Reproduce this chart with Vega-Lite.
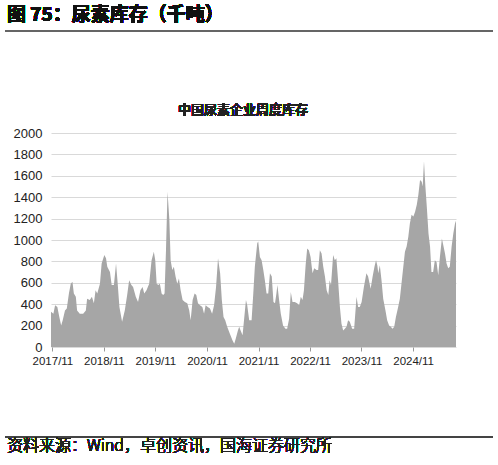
{
  "$schema": "https://vega.github.io/schema/vega-lite/v6.json",
  "autosize": "none",
  "width": 405,
  "height": 214,
  "padding": {"left": 51, "top": 133, "right": 42, "bottom": 118},
  "background": "white",
  "data": {
    "values": [
      {"d": "2017-10-22", "v": 330}, {"d": "2017-11-08", "v": 310}, {"d": "2017-11-20", "v": 390},
      {"d": "2017-12-06", "v": 375}, {"d": "2017-12-20", "v": 280}, {"d": "2018-01-02", "v": 200},
      {"d": "2018-01-13", "v": 250}, {"d": "2018-01-29", "v": 340}, {"d": "2018-02-11", "v": 360},
      {"d": "2018-02-26", "v": 500}, {"d": "2018-03-11", "v": 590}, {"d": "2018-03-23", "v": 610},
      {"d": "2018-04-02", "v": 500}, {"d": "2018-04-16", "v": 470}, {"d": "2018-04-25", "v": 340},
      {"d": "2018-05-14", "v": 310}, {"d": "2018-06-07", "v": 310}, {"d": "2018-06-26", "v": 340},
      {"d": "2018-07-05", "v": 450}, {"d": "2018-07-24", "v": 440}, {"d": "2018-08-08", "v": 470},
      {"d": "2018-08-22", "v": 410}, {"d": "2018-09-03", "v": 530}, {"d": "2018-09-15", "v": 500},
      {"d": "2018-10-04", "v": 590}, {"d": "2018-10-16", "v": 780}, {"d": "2018-11-04", "v": 860},
      {"d": "2018-11-16", "v": 830}, {"d": "2018-11-25", "v": 750}, {"d": "2018-12-14", "v": 700},
      {"d": "2018-12-26", "v": 580}, {"d": "2019-01-11", "v": 580}, {"d": "2019-01-26", "v": 780},
      {"d": "2019-02-05", "v": 625}, {"d": "2019-02-19", "v": 375}, {"d": "2019-03-10", "v": 235},
      {"d": "2019-03-29", "v": 340}, {"d": "2019-04-15", "v": 485}, {"d": "2019-04-29", "v": 625},
      {"d": "2019-05-15", "v": 580}, {"d": "2019-05-27", "v": 560}, {"d": "2019-06-15", "v": 470},
      {"d": "2019-07-01", "v": 420}, {"d": "2019-07-18", "v": 530}, {"d": "2019-08-02", "v": 560},
      {"d": "2019-08-14", "v": 500}, {"d": "2019-08-30", "v": 530}, {"d": "2019-09-18", "v": 590},
      {"d": "2019-10-05", "v": 810}, {"d": "2019-10-21", "v": 890}, {"d": "2019-10-31", "v": 810},
      {"d": "2019-11-10", "v": 590}, {"d": "2019-11-22", "v": 580}, {"d": "2019-12-03", "v": 590},
      {"d": "2019-12-15", "v": 500}, {"d": "2019-12-26", "v": 485}, {"d": "2020-01-05", "v": 500},
      {"d": "2020-01-15", "v": 900}, {"d": "2020-01-26", "v": 1450}, {"d": "2020-02-08", "v": 1190},
      {"d": "2020-02-17", "v": 810}, {"d": "2020-02-29", "v": 720}, {"d": "2020-03-11", "v": 750},
      {"d": "2020-03-23", "v": 660}, {"d": "2020-04-04", "v": 590}, {"d": "2020-04-16", "v": 640},
      {"d": "2020-04-28", "v": 530}, {"d": "2020-05-12", "v": 440}, {"d": "2020-05-28", "v": 420},
      {"d": "2020-06-14", "v": 410}, {"d": "2020-06-28", "v": 340}, {"d": "2020-07-08", "v": 250},
      {"d": "2020-07-22", "v": 440}, {"d": "2020-08-05", "v": 500}, {"d": "2020-08-17", "v": 485},
      {"d": "2020-08-29", "v": 410}, {"d": "2020-09-12", "v": 390}, {"d": "2020-09-29", "v": 375},
      {"d": "2020-10-11", "v": 310}, {"d": "2020-10-22", "v": 390}, {"d": "2020-11-06", "v": 375},
      {"d": "2020-11-22", "v": 360}, {"d": "2020-12-07", "v": 310}, {"d": "2020-12-21", "v": 390},
      {"d": "2021-01-04", "v": 560}, {"d": "2021-01-18", "v": 830}, {"d": "2021-02-02", "v": 690},
      {"d": "2021-02-14", "v": 440}, {"d": "2021-02-26", "v": 280}, {"d": "2021-03-10", "v": 250},
      {"d": "2021-03-24", "v": 190}, {"d": "2021-04-12", "v": 125}, {"d": "2021-05-01", "v": 60},
      {"d": "2021-05-13", "v": 30}, {"d": "2021-05-24", "v": 80}, {"d": "2021-06-08", "v": 155},
      {"d": "2021-06-17", "v": 190}, {"d": "2021-06-27", "v": 155}, {"d": "2021-07-11", "v": 110},
      {"d": "2021-08-04", "v": 440}, {"d": "2021-08-13", "v": 390}, {"d": "2021-08-27", "v": 250},
      {"d": "2021-09-13", "v": 250}, {"d": "2021-09-25", "v": 500}, {"d": "2021-10-06", "v": 750},
      {"d": "2021-10-23", "v": 970}, {"d": "2021-10-30", "v": 985}, {"d": "2021-11-11", "v": 840},
      {"d": "2021-11-23", "v": 810}, {"d": "2021-12-05", "v": 720}, {"d": "2021-12-16", "v": 625},
      {"d": "2021-12-28", "v": 500}, {"d": "2022-01-09", "v": 500}, {"d": "2022-01-21", "v": 690},
      {"d": "2022-02-03", "v": 660}, {"d": "2022-02-15", "v": 420}, {"d": "2022-02-26", "v": 410},
      {"d": "2022-03-08", "v": 500}, {"d": "2022-03-15", "v": 580}, {"d": "2022-03-27", "v": 440},
      {"d": "2022-04-08", "v": 310}, {"d": "2022-04-24", "v": 200}, {"d": "2022-05-11", "v": 170},
      {"d": "2022-05-23", "v": 170}, {"d": "2022-06-06", "v": 265}, {"d": "2022-06-18", "v": 515},
      {"d": "2022-06-30", "v": 420}, {"d": "2022-07-16", "v": 420}, {"d": "2022-08-02", "v": 410},
      {"d": "2022-08-16", "v": 390}, {"d": "2022-08-28", "v": 470}, {"d": "2022-09-09", "v": 440},
      {"d": "2022-09-19", "v": 530}, {"d": "2022-10-01", "v": 765}, {"d": "2022-10-12", "v": 920},
      {"d": "2022-10-24", "v": 905}, {"d": "2022-11-05", "v": 840}, {"d": "2022-11-19", "v": 690},
      {"d": "2022-12-01", "v": 735}, {"d": "2022-12-17", "v": 720}, {"d": "2022-12-29", "v": 720},
      {"d": "2023-01-10", "v": 905}, {"d": "2023-01-22", "v": 875}, {"d": "2023-02-03", "v": 750},
      {"d": "2023-02-15", "v": 660}, {"d": "2023-02-27", "v": 530}, {"d": "2023-03-11", "v": 485},
      {"d": "2023-03-20", "v": 625}, {"d": "2023-03-30", "v": 580}, {"d": "2023-04-14", "v": 860},
      {"d": "2023-04-26", "v": 810}, {"d": "2023-05-07", "v": 830}, {"d": "2023-05-19", "v": 625},
      {"d": "2023-06-01", "v": 375}, {"d": "2023-06-12", "v": 220}, {"d": "2023-06-24", "v": 155},
      {"d": "2023-07-06", "v": 170}, {"d": "2023-07-18", "v": 190}, {"d": "2023-07-29", "v": 250},
      {"d": "2023-08-10", "v": 235}, {"d": "2023-08-27", "v": 170}, {"d": "2023-09-10", "v": 170},
      {"d": "2023-09-27", "v": 470}, {"d": "2023-10-08", "v": 375}, {"d": "2023-10-20", "v": 375},
      {"d": "2023-11-02", "v": 420}, {"d": "2023-11-18", "v": 560}, {"d": "2023-12-06", "v": 690},
      {"d": "2023-12-18", "v": 660}, {"d": "2024-01-05", "v": 545}, {"d": "2024-01-19", "v": 660},
      {"d": "2024-02-01", "v": 750}, {"d": "2024-02-12", "v": 810}, {"d": "2024-02-21", "v": 765},
      {"d": "2024-02-28", "v": 690}, {"d": "2024-03-10", "v": 765}, {"d": "2024-03-22", "v": 625},
      {"d": "2024-04-03", "v": 450}, {"d": "2024-04-19", "v": 340}, {"d": "2024-05-01", "v": 250},
      {"d": "2024-05-15", "v": 200}, {"d": "2024-05-27", "v": 190}, {"d": "2024-06-08", "v": 170},
      {"d": "2024-06-20", "v": 190}, {"d": "2024-07-02", "v": 280}, {"d": "2024-07-18", "v": 375},
      {"d": "2024-07-30", "v": 450}, {"d": "2024-08-16", "v": 660}, {"d": "2024-09-04", "v": 890},
      {"d": "2024-09-16", "v": 940}, {"d": "2024-09-28", "v": 1030}, {"d": "2024-10-09", "v": 1155},
      {"d": "2024-10-21", "v": 1235}, {"d": "2024-11-03", "v": 1220}, {"d": "2024-11-15", "v": 1265},
      {"d": "2024-11-27", "v": 1330}, {"d": "2024-12-08", "v": 1420}, {"d": "2024-12-20", "v": 1560},
      {"d": "2025-01-01", "v": 1545}, {"d": "2025-01-08", "v": 1500}, {"d": "2025-01-17", "v": 1735},
      {"d": "2025-01-27", "v": 1500}, {"d": "2025-02-06", "v": 1310}, {"d": "2025-02-18", "v": 1060},
      {"d": "2025-03-01", "v": 940}, {"d": "2025-03-11", "v": 700}, {"d": "2025-03-23", "v": 700},
      {"d": "2025-04-04", "v": 810}, {"d": "2025-04-16", "v": 795}, {"d": "2025-04-28", "v": 670},
      {"d": "2025-05-10", "v": 840}, {"d": "2025-05-24", "v": 1015}, {"d": "2025-06-03", "v": 950},
      {"d": "2025-06-15", "v": 875}, {"d": "2025-06-26", "v": 780}, {"d": "2025-07-08", "v": 735},
      {"d": "2025-07-19", "v": 750}, {"d": "2025-08-01", "v": 940}, {"d": "2025-08-13", "v": 1060},
      {"d": "2025-08-25", "v": 1155}, {"d": "2025-09-01", "v": 1180}
    ]
  },
  "layer": [
    {
      "mark": {"type": "area", "color": "#a6a6a6", "interpolate": "linear"},
      "encoding": {
        "x": {
          "field": "d",
          "type": "temporal",
          "scale": {"nice": false},
          "axis": {
            "title": null,
            "values": [
              {"year": 2017, "month": 11, "date": 1},
              {"year": 2018, "month": 11, "date": 1},
              {"year": 2019, "month": 11, "date": 1},
              {"year": 2020, "month": 11, "date": 1},
              {"year": 2021, "month": 11, "date": 1},
              {"year": 2022, "month": 11, "date": 1},
              {"year": 2023, "month": 11, "date": 1},
              {"year": 2024, "month": 11, "date": 1}
            ],
            "format": "%Y/%m",
            "grid": false,
            "domain": false,
            "ticks": true,
            "tickColor": "#999",
            "tickSize": 4,
            "labelFont": "Liberation Sans",
            "labelFontSize": 11.5,
            "labelColor": "#222",
            "labelPadding": 4
          }
        },
        "y": {
          "field": "v",
          "type": "quantitative",
          "scale": {"domain": [0, 2000]},
          "axis": {
            "title": null,
            "values": [0, 200, 400, 600, 800, 1000, 1200, 1400, 1600, 1800, 2000],
            "format": "d",
            "grid": true,
            "gridColor": "#d9d9d9",
            "domain": false,
            "ticks": false,
            "labelFont": "Liberation Sans",
            "labelFontSize": 13,
            "labelColor": "#222",
            "labelPadding": 9
          }
        }
      }
    },
    {
      "mark": {"type": "text", "align": "center", "baseline": "middle", "font": "Noto Sans CJK SC", "fontSize": 13, "fontWeight": 500, "color": "#222"},
      "encoding": {
        "x": {"value": 192},
        "y": {"value": -23},
        "text": {"value": "中国尿素企业周度库存"}
      }
    },
    {
      "mark": {"type": "text", "align": "left", "baseline": "middle", "font": "Noto Sans CJK SC", "fontSize": 19, "fontWeight": "bold", "color": "#111"},
      "encoding": {
        "x": {"value": -44},
        "y": {"value": -118},
        "text": {"value": "图 75：尿素库存（千吨）"}
      }
    },
    {
      "mark": {"type": "rule", "color": "#666", "strokeWidth": 1.5},
      "encoding": {
        "x": {"value": -46},
        "x2": {"value": 442},
        "y": {"value": -102}
      }
    },
    {
      "mark": {"type": "rule", "color": "#444", "strokeWidth": 1.2},
      "encoding": {
        "x": {"value": -46},
        "x2": {"value": 442},
        "y": {"value": 304}
      }
    },
    {
      "mark": {"type": "text", "align": "left", "baseline": "middle", "font": "Noto Sans CJK SC", "fontSize": 16, "fontWeight": 300, "color": "#222"},
      "encoding": {
        "x": {"value": -44},
        "y": {"value": 313},
        "text": {"value": "资料来源：Wind，卓创资讯，国海证券研究所"}
      }
    }
  ],
  "config": {
    "view": {"stroke": null}
  }
}
